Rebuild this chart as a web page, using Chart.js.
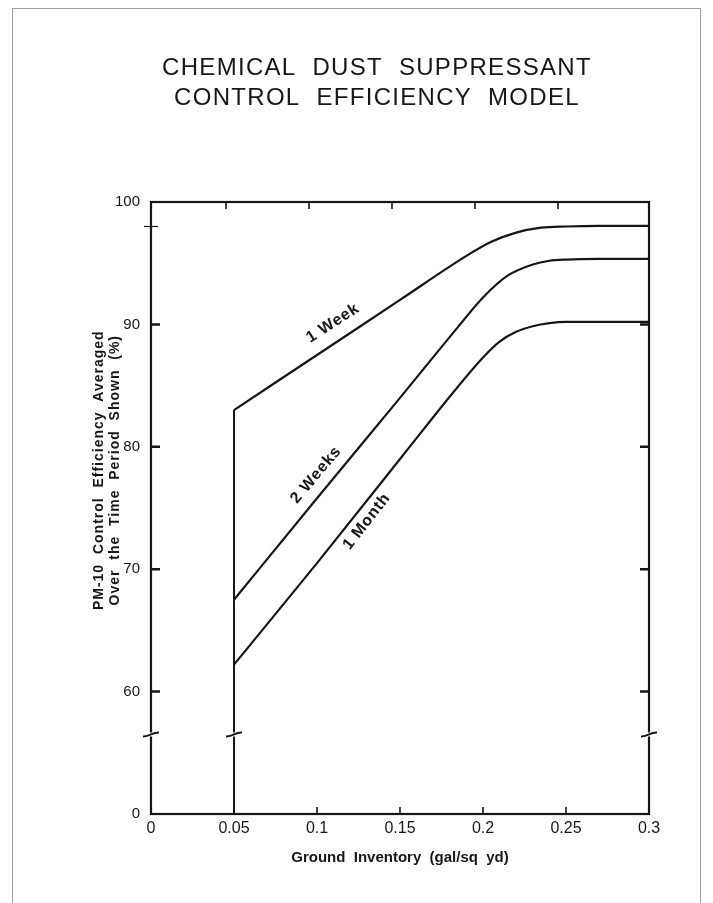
<!DOCTYPE html>
<html>
<head>
<meta charset="utf-8">
<script src="https://cdn.jsdelivr.net/npm/chart.js@4.4.1/dist/chart.umd.min.js"></script>
<style>
  html, body { margin: 0; padding: 0; background: #fff; }
  #wrap { position: relative; width: 713px; height: 903px; overflow: hidden; }
  #frame { position: absolute; left: 12px; top: 8px; width: 687px; height: 900px;
           border: 1px solid #a0a0a0; border-bottom: none; pointer-events: none; }
</style>
</head>
<body>
<div id="wrap">
  <canvas id="chart" width="713" height="903"></canvas>
  <div id="frame"></div>
</div>
<script>
// axis ticks (50 sits below the axis break and is printed as 0)
const xTicks = [0, 0.05, 0.1, 0.15, 0.2, 0.25, 0.3];
const xTickLabels = ['0', '0.05', '0.1', '0.15', '0.2', '0.25', '0.3'];
const yTicks = [50, 60, 70, 80, 90, 100];
const yTickLabels = ['0', '60', '70', '80', '90', '100'];

// curves
const weekX = [0.05, 0.10, 0.15, 0.19, 0.205, 0.22, 0.235, 0.25, 0.27, 0.30];
const weekY = [83.0, 87.5, 92.0, 95.6, 96.75, 97.5, 97.9, 98.0, 98.05, 98.05];

const twoWeeksX = [0.05, 0.10, 0.15, 0.185, 0.20, 0.215, 0.23, 0.24, 0.25, 0.27, 0.30];
const twoWeeksY = [67.5, 75.8, 84.0, 89.8, 92.2, 94.0, 94.9, 95.2, 95.3, 95.35, 95.35];

const monthX = [0.05, 0.10, 0.15, 0.183, 0.20, 0.21, 0.22, 0.23, 0.24, 0.25, 0.27, 0.30];
const monthY = [62.2, 70.5, 79.0, 84.6, 87.3, 88.6, 89.4, 89.85, 90.1, 90.2, 90.2, 90.2];

// vertical drop at the minimum inventory
const dropX = [0.05, 0.05];
const dropY = [50, 83.0];

const seriesNames = ['1 Week', '2 Weeks', '1 Month'];
const titleLines = ['CHEMICAL  DUST  SUPPRESSANT', 'CONTROL  EFFICIENCY  MODEL'];
const yTitleLines = ['PM-10  Control  Efficiency  Averaged', 'Over  the  Time  Period  Shown  (%)'];
const xTitle = 'Ground  Inventory  (gal/sq  yd)';
const breakValue = 56.5;

const ink = '#161616';
const fontFamily = "'Liberation Sans', Arial, Helvetica, sans-serif";

function toPoints(xs, ys) {
    return xs.map((x, i) => ({ x: x, y: ys[i] }));
}

function curve(label, xs, ys) {
    return {
        label: label,
        data: toPoints(xs, ys),
        borderColor: ink,
        borderWidth: 2.2,
        pointRadius: 0,
        fill: false,
        cubicInterpolationMode: 'monotone'
    };
}

// titles, frame, inward ticks, axis breaks and the curve labels
const decorations = {
    id: 'decorations',
    afterDatasetsDraw(chart) {
        const ctx = chart.ctx;
        const a = chart.chartArea;
        const xs = chart.scales.x;
        const ys = chart.scales.y;
        ctx.save();

        // title (centred on the page, a little right of the plot centre)
        ctx.fillStyle = ink;
        ctx.font = '24px ' + fontFamily;
        ctx.textAlign = 'center';
        ctx.textBaseline = 'middle';
        ctx.letterSpacing = '1.3px';
        ctx.fillText(titleLines[0], 377, 68);
        ctx.fillText(titleLines[1], 377, 98);

        // y axis title, two rotated lines
        ctx.font = 'bold 14px ' + fontFamily;
        ctx.letterSpacing = '1px';
        const midY = (a.top + ys.getPixelForValue(breakValue)) / 2 + 2;
        ctx.save();
        ctx.translate(99, midY);
        ctx.rotate(-Math.PI / 2);
        ctx.fillText(yTitleLines[0], 0, 0);
        ctx.fillText(yTitleLines[1], 0, 16);
        ctx.restore();
        ctx.letterSpacing = '0px';

        ctx.strokeStyle = ink;
        ctx.lineCap = 'butt';
        ctx.lineWidth = 2.2;
        ctx.strokeRect(a.left, a.top, a.right - a.left, a.bottom - a.top);

        // y ticks, left and right, pointing inside
        ctx.lineWidth = 2.5;
        [60, 70, 80, 90].forEach(v => {
            const py = ys.getPixelForValue(v);
            ctx.beginPath();
            ctx.moveTo(a.left, py); ctx.lineTo(a.left + 9, py);
            ctx.moveTo(a.right, py); ctx.lineTo(a.right - 9, py);
            ctx.stroke();
        });
        // small cross mark near the top of the left axis
        ctx.lineWidth = 1.2;
        const p98 = ys.getPixelForValue(98);
        ctx.beginPath();
        ctx.moveTo(a.left - 7, p98); ctx.lineTo(a.left + 7, p98);
        ctx.stroke();

        // x ticks, bottom and top
        ctx.lineWidth = 1.6;
        [0.1, 0.15, 0.2, 0.25].forEach(v => {
            const px = xs.getPixelForValue(v);
            ctx.beginPath();
            ctx.moveTo(px, a.bottom); ctx.lineTo(px, a.bottom - 7);
            ctx.stroke();
        });
        [0.05, 0.1, 0.15, 0.2, 0.25].forEach(v => {
            const px = xs.getPixelForValue(v) - 8;
            ctx.beginPath();
            ctx.moveTo(px, a.top); ctx.lineTo(px, a.top + 7);
            ctx.stroke();
        });

        // axis break marks
        ctx.lineWidth = 2;
        [0, 0.05, 0.3].forEach(v => {
            const px = xs.getPixelForValue(v);
            const py = ys.getPixelForValue(breakValue);
            ctx.fillStyle = '#fff';
            ctx.fillRect(px - 2, py - 2, 4, 4);
            ctx.beginPath();
            ctx.moveTo(px - 8, py + 2);
            ctx.bezierCurveTo(px - 1, py + 2.5, px + 1, py - 2.5, px + 8, py - 2);
            ctx.stroke();
        });

        // curve labels along the lines
        const tags = [
            { x: 0.1096, y: 90.1, rot: -33 },
            { x: 0.0994, y: 77.7, rot: -50 },
            { x: 0.130, y: 73.9, rot: -52 }
        ];
        ctx.fillStyle = ink;
        ctx.font = 'bold 16px ' + fontFamily;
        ctx.letterSpacing = '0.8px';
        ctx.textAlign = 'center';
        ctx.textBaseline = 'middle';
        tags.forEach((t, i) => {
            ctx.save();
            ctx.translate(xs.getPixelForValue(t.x), ys.getPixelForValue(t.y));
            ctx.rotate(t.rot * Math.PI / 180);
            ctx.fillText(seriesNames[i], 0, 0);
            ctx.restore();
        });
        ctx.restore();
    }
};

new Chart(document.getElementById('chart'), {
    type: 'line',
    data: {
        datasets: [
            curve(seriesNames[0], weekX, weekY),
            curve(seriesNames[1], twoWeeksX, twoWeeksY),
            curve(seriesNames[2], monthX, monthY),
            {
                label: 'drop',
                data: toPoints(dropX, dropY),
                borderColor: ink,
                borderWidth: 2,
                pointRadius: 0,
                fill: false
            }
        ]
    },
    options: {
        responsive: false,
        animation: false,
        layout: { padding: { left: 0, right: 64, top: 202, bottom: 0 } },
        plugins: {
            legend: { display: false },
            tooltip: { enabled: false },
            title: { display: false }
        },
        scales: {
            x: {
                type: 'linear',
                min: 0,
                max: 0.3,
                afterBuildTicks: s => { s.ticks = xTicks.map(v => ({ value: v })); },
                afterFit: s => { s.height = 89; },
                grid: { display: false, drawTicks: false },
                border: { display: false },
                ticks: {
                    color: ink,
                    padding: 5,
                    maxRotation: 0,
                    font: { family: fontFamily, size: 16 },
                    callback: (v, i) => xTickLabels[i]
                },
                title: {
                    display: true,
                    text: xTitle,
                    color: ink,
                    font: { family: fontFamily, size: 15, weight: 'bold' },
                    padding: { top: 4, bottom: 36 }
                }
            },
            y: {
                type: 'linear',
                min: 50,
                max: 100,
                afterBuildTicks: s => { s.ticks = yTicks.map(v => ({ value: v })); },
                afterFit: s => { s.width = 151; },
                grid: { display: false, drawTicks: false },
                border: { display: false },
                ticks: {
                    color: ink,
                    padding: 11,
                    font: { family: fontFamily, size: 15 },
                    callback: (v, i) => yTickLabels[i]
                },
                title: { display: false }
            }
        }
    },
    plugins: [decorations]
});
</script>
</body>
</html>
